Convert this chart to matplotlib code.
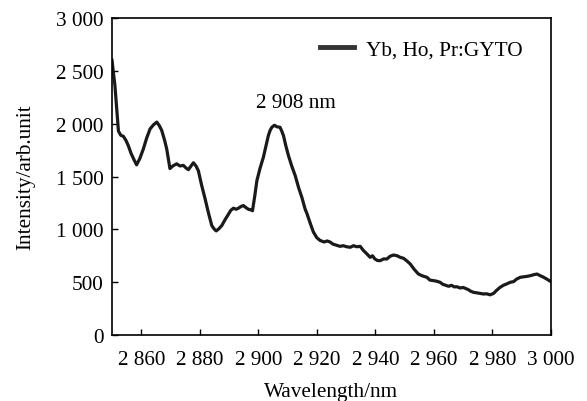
import numpy as np
import matplotlib.pyplot as plt
from matplotlib.ticker import FuncFormatter, MultipleLocator

plt.rcParams['font.family'] = ['Liberation Serif', 'DejaVu Serif']

# emission spectrum
wavelength = [
    2850.0, 2850.5, 2851.0, 2851.6, 2852.2, 2853.0, 2853.9, 2854.8, 2855.6, 2856.5,
    2857.5, 2858.4, 2859.5, 2860.7, 2861.8, 2863.0, 2864.2, 2865.3, 2866.2, 2867.0,
    2868.0, 2868.7, 2869.3, 2869.8, 2870.8, 2872.1, 2873.2, 2874.4, 2875.3, 2876.1,
    2877.0, 2877.8, 2878.7, 2879.5, 2880.6, 2881.8, 2883.0, 2884.1, 2885.0, 2885.6,
    2886.5, 2887.5, 2888.6, 2889.8, 2890.6, 2891.5, 2892.4, 2893.2, 2894.0, 2894.9,
    2895.8, 2896.6, 2897.4, 2898.0, 2898.8, 2899.5, 2900.6, 2901.7, 2902.6, 2903.4,
    2904.0, 2904.6, 2905.5, 2906.4, 2907.4, 2908.0, 2908.6, 2909.4, 2910.3, 2911.4,
    2912.6, 2913.7, 2914.9, 2916.0, 2916.6, 2917.7, 2918.8, 2920.0, 2921.1, 2922.5,
    2923.5, 2924.5, 2925.5, 2926.7, 2927.9, 2929.0, 2930.2, 2931.4, 2932.5, 2933.6,
    2934.8, 2935.9, 2937.0, 2938.2, 2939.0, 2939.8, 2940.7, 2941.6, 2942.8, 2943.9,
    2945.0, 2946.2, 2947.4, 2948.5, 2949.6, 2950.8, 2951.9, 2953.3, 2954.7, 2956.0,
    2957.6, 2958.6, 2959.8, 2960.8, 2962.1, 2963.0, 2964.0, 2965.0, 2966.0, 2967.0,
    2967.8, 2969.0, 2970.0, 2970.7, 2971.7, 2972.5, 2973.5, 2974.5, 2975.5, 2976.9,
    2978.0, 2979.2, 2980.4, 2981.3, 2982.6, 2983.7, 2985.0, 2986.1, 2987.2, 2988.3,
    2989.5, 2990.6, 2991.8, 2992.9, 2994.0, 2995.2, 2996.4, 2997.5, 2998.8, 3000.0,
]
intensity = [
    2600, 2480, 2360, 2150, 1930, 1890, 1880, 1840, 1790, 1720,
    1660, 1610, 1670, 1760, 1860, 1950, 1990, 2015, 1980, 1935,
    1840, 1760, 1660, 1575, 1600, 1620, 1600, 1605, 1580, 1565,
    1600, 1630, 1600, 1555, 1420, 1290, 1150, 1035, 1000, 985,
    1005, 1035, 1090, 1145, 1180, 1200, 1190, 1200, 1215, 1225,
    1205, 1190, 1185, 1176, 1320, 1460, 1580, 1680, 1790, 1885,
    1935, 1966, 1985, 1970, 1966, 1930, 1886, 1790, 1697, 1600,
    1508, 1400, 1300, 1190, 1150, 1060, 975, 920, 895, 880,
    890, 880, 860, 850, 839, 845, 835, 830, 845, 835,
    839, 800, 770, 735, 750, 720, 705, 703, 720, 719,
    745, 757, 750, 735, 726, 700, 672, 620, 577, 560,
    546, 520, 514, 510, 499, 480, 470, 461, 470, 455,
    457, 445, 450, 442, 430, 415, 404, 400, 395, 388,
    390, 380, 394, 420, 451, 470, 485, 499, 505, 530,
    546, 550, 555, 561, 570, 577, 560, 546, 525, 504,
]
series_label = 'Yb, Ho, Pr:GYTO'
peak_label = '2 908 nm'


def space_thousands(v, pos):
    return f'{int(round(v)):,}'.replace(',', ' ')


fs = 15.3
fig = plt.figure(figsize=(5.87, 4.02), dpi=100)
ax = fig.add_axes([0.1908, 0.1642, 0.7479, 0.7885])

ax.plot(wavelength, intensity, color='#1a1a1a', lw=2.3, label=series_label)

ax.set_xlim(2850, 3000)
ax.set_ylim(0, 3000)
ax.xaxis.set_major_locator(MultipleLocator(20))
ax.xaxis.set_major_formatter(FuncFormatter(lambda v, p: '' if v < 2855 else space_thousands(v, p)))
ax.yaxis.set_major_locator(MultipleLocator(500))
ax.yaxis.set_major_formatter(FuncFormatter(space_thousands))
ax.tick_params(direction='in', length=4, width=1, labelsize=fs, top=False, right=False)
ax.tick_params(axis='x', pad=11)
ax.tick_params(axis='y', pad=6)
for s in ax.spines.values():
    s.set_linewidth(1.2)

ax.set_xlabel('Wavelength/nm', fontsize=fs, labelpad=9)
ax.set_ylabel('Intensity/arb.unit', fontsize=fs, labelpad=15)

ax.text(2913, 2205, peak_label, fontsize=fs, ha='center', va='center')

leg = ax.legend(loc='center left', frameon=False, fontsize=fs, handlelength=1.6,
                handletextpad=0.55, borderpad=0, borderaxespad=0,
                bbox_to_anchor=(0.474, 0.9))
for h in leg.get_lines():
    h.set_linewidth(3.5)
    h.set_color('#333333')

fig.savefig('out.png', dpi=100)
